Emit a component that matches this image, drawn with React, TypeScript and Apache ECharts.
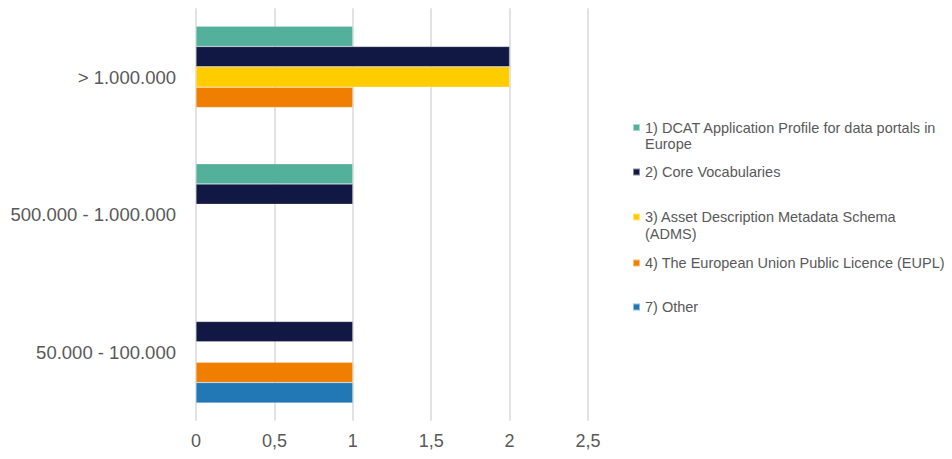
import React, { useEffect, useRef } from "react";
import * as echarts from "echarts";

const categories = ["> 1.000.000", "500.000 - 1.000.000", "50.000 - 100.000"];
const seriesNames = [
  "1) DCAT Application Profile for data portals in Europe",
  "2) Core Vocabularies",
  "3) Asset Description Metadata Schema (ADMS)",
  "4) The European Union Public Licence (EUPL)",
  "7) Other",
];
const legendLabels = [
  "1) DCAT Application Profile for data portals in\nEurope",
  "2) Core Vocabularies",
  "3) Asset Description Metadata Schema\n(ADMS)",
  "4) The European Union Public Licence (EUPL)",
  "7) Other",
];
const dcatValues = [1, 1, null];
const coreValues = [2, 1, 1];
const admsValues = [2, null, null];
const euplValues = [1, null, 1];
const otherValues = [null, null, 1];
const seriesValues = [dcatValues, coreValues, admsValues, euplValues, otherValues];
const colors = ["#53B09B", "#111844", "#FFCC00", "#F07E00", "#2277B5"];
const xTicks = { min: 0, max: 2.5, interval: 0.5 };

const FONT = "'Liberation Sans', Arial, sans-serif";
const TEXT = "#595959";

export default function App() {
  const ref = useRef<HTMLDivElement>(null);
  useEffect(() => {
    if (!ref.current) return;
    const chart = echarts.init(ref.current, undefined, { renderer: "svg" });
    const legendCenters = [127.5, 172, 217, 263, 307];
    const LH = 16.5;
    const legends = seriesNames.map((name, i) => {
      const twoLine = legendLabels[i].includes("\n");
      return {
        orient: "vertical",
        left: 632,
        top: legendCenters[i] - (twoLine ? LH * 1.5 : LH / 2),
        padding: 0,
        itemWidth: 7,
        itemHeight: 7,
        icon: "rect",
        data: [name],
        formatter: () => (twoLine ? "\n" + legendLabels[i] : legendLabels[i]),
        textStyle: {
          color: TEXT,
          fontSize: 14.5,
          fontFamily: FONT,
          lineHeight: LH,
        },
      };
    });
    chart.setOption({
      animation: false,
      color: colors,
      grid: { left: 196, right: 364, top: 8.25, bottom: 38.25, containLabel: false },
      legend: legends,
      xAxis: {
        type: "value",
        min: xTicks.min,
        max: xTicks.max,
        interval: xTicks.interval,
        axisLine: { show: false },
        axisTick: { show: false },
        axisLabel: {
          color: TEXT,
          fontSize: 18,
          fontFamily: FONT,
          margin: 11,
          formatter: (v: number) => String(v).replace(".", ","),
        },
        splitLine: { show: true, lineStyle: { color: "#D9D9D9", width: 1.5 } },
      },
      yAxis: {
        type: "category",
        inverse: true,
        data: categories,
        axisLine: { show: false },
        axisTick: { show: false },
        axisLabel: { color: TEXT, fontSize: 18.5, fontFamily: FONT, margin: 20 },
        splitLine: { show: false },
      },
      series: seriesNames.map((name, i) => ({
        name,
        type: "bar",
        data: seriesValues[i],
        barGap: "0%",
        barCategoryGap: "26%",
        itemStyle: { color: colors[i], borderColor: "rgba(255,255,255,0.5)", borderWidth: 0.5 },
      })),
    });
    return () => chart.dispose();
  }, []);
  return (
    <div
      ref={ref}
      style={{ width: 952, height: 459, position: "absolute", left: 0, top: 0, background: "#fff" }}
    />
  );
}
